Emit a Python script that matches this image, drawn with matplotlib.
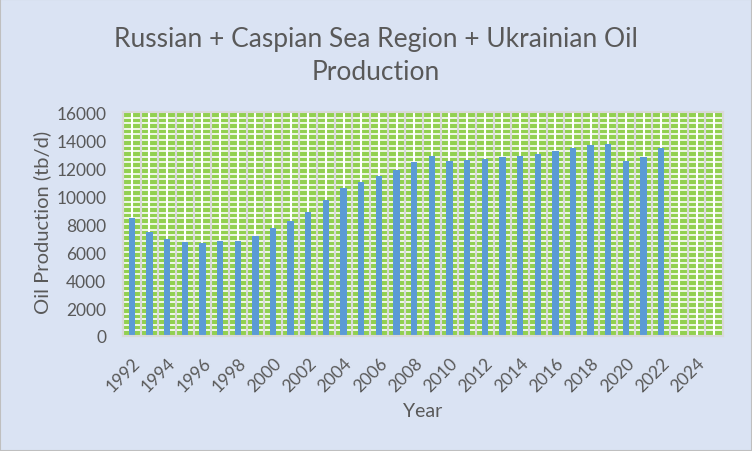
import matplotlib
matplotlib.use("Agg")
import matplotlib.pyplot as plt
from matplotlib.patches import Rectangle

# data
years = list(range(1992, 2023))
production = [8450, 7450, 6900, 6750, 6650, 6800, 6800, 7150, 7750, 8250,
              8850, 9700, 10550, 11000, 11450, 11850, 12400, 12850, 12500, 12550,
              12650, 12800, 12850, 13000, 13200, 13400, 13650, 13700, 12500, 12800,
              13400]
tick_years = list(range(1992, 2025, 2))
y_ticks = list(range(0, 16001, 2000))

title = "Russian + Caspian Sea Region + Ukrainian Oil\nProduction"
ylabel = "Oil Production (tb/d)"
xlabel = "Year"

plt.rcParams['font.family'] = ['Lato', 'DejaVu Sans']
txt = '#595959'
bg = '#DAE3F3'

fig = plt.figure(figsize=(7.52, 4.52), dpi=100)
fig.patch.set_facecolor(bg)
fig.patches.append(Rectangle((0, 0), 1, 1, transform=fig.transFigure,
                             fill=False, edgecolor='#BFBFBF', linewidth=1.5))

ax = fig.add_axes([123/752, 1 - 337/452, 600/752, 224/452])
ax.set_facecolor('#92D050')

# patterned plot area: white stripes + grey category gridlines
for v in range(0, 16001, 400):
    ax.axhline(v, color='white', linewidth=1.2, zorder=0.5)
for yr in range(1992, 2026):
    ax.axvline(yr, color='white', linewidth=1.5, zorder=0.6)
    ax.axvline(yr - 0.5, color='#D9D9D9', linewidth=1.5, zorder=0.7)

ax.bar(years, production, width=0.36, color='#5B9BD5', zorder=2)

ax.set_xlim(1991.5, 2025.5)
ax.set_ylim(0, 16000)
ax.set_xticks(tick_years)
ax.set_xticklabels([str(y) for y in tick_years], rotation=45, ha='right',
                   va='top', rotation_mode='anchor')
ax.set_yticks(y_ticks)
ax.tick_params(length=0, labelsize=12.5, colors=txt, pad=12)
ax.tick_params(axis='x', pad=13)
for s in ax.spines.values():
    s.set_color('#D9D9D9')
    s.set_linewidth(1.5)

fig.text(0.5, 1 - 56/452, title, ha='center', va='center', fontsize=19,
         color=txt, linespacing=1.42)
fig.text(42/752, 1 - 222/452, ylabel, rotation=90, ha='center', va='center',
         fontsize=14.5, color=txt)
fig.text(423/752, 1 - 412/452, xlabel, ha='center', va='center',
         fontsize=14, color=txt)

fig.savefig('out.png', dpi=100, facecolor=bg)
